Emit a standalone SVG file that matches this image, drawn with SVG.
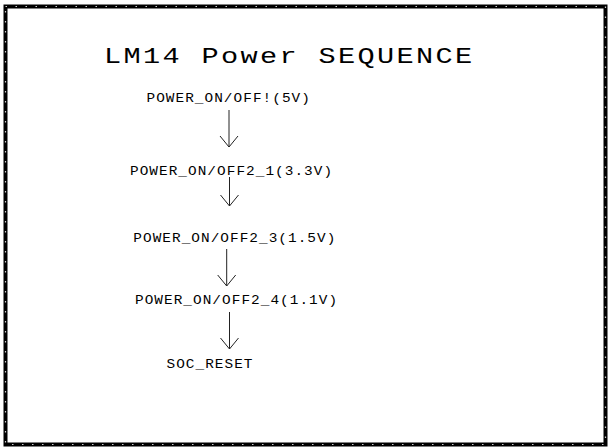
<svg xmlns="http://www.w3.org/2000/svg" width="611" height="448" viewBox="0 0 611 448">
<style>
.lbl{font-family:"Liberation Mono","Courier New",monospace;font-size:12px;letter-spacing:0.86px;fill:#000}
.title{font-family:"Liberation Mono","Courier New",monospace;font-size:22px;letter-spacing:1.8px;fill:#000}
.conn line,.conn polyline{stroke:#222;stroke-width:1;fill:none}
</style>
<rect x="0" y="0" width="611" height="448" fill="#fff"/>
<rect x="5.5" y="6.5" width="600" height="438" fill="none" stroke="#000" stroke-width="4"/>
<rect x="5.5" y="6.5" width="600" height="438" fill="none" stroke="#fff" stroke-width="1.2" stroke-dasharray="1.5 8.5" opacity="0.8"/>
<g id="title"><text class="title" transform="translate(104,63) scale(1.3,1)">LM14 Power SEQUENCE</text></g>
<g id="n1"><text class="lbl" transform="translate(146.5,101.7) scale(1.2,1)">POWER_ON/OFF!(5V)</text></g>
<g id="n2"><text class="lbl" transform="translate(130,175) scale(1.2,1)">POWER_ON/OFF2_1(3.3V)</text></g>
<g id="n3"><text class="lbl" transform="translate(133.3,241.7) scale(1.2,1)">POWER_ON/OFF2_3(1.5V)</text></g>
<g id="n4"><text class="lbl" transform="translate(135,304.3) scale(1.2,1)">POWER_ON/OFF2_4(1.1V)</text></g>
<g id="n5"><text class="lbl" transform="translate(166.5,368.3) scale(1.2,1)">SOC_RESET</text></g>
<g class="conn" id="connectors">
<line x1="229" y1="110" x2="229" y2="147"/><polyline points="220,136 229,147 238,136"/>
<line x1="229.5" y1="177" x2="229.5" y2="206"/><polyline points="220.5,195 229.5,206 238.5,195"/>
<line x1="226.7" y1="249" x2="226.7" y2="286"/><polyline points="217.7,275 226.7,286 235.7,275"/>
<line x1="229.5" y1="312" x2="229.5" y2="349"/><polyline points="220.5,338 229.5,349 238.5,338"/>
</g>
</svg>
